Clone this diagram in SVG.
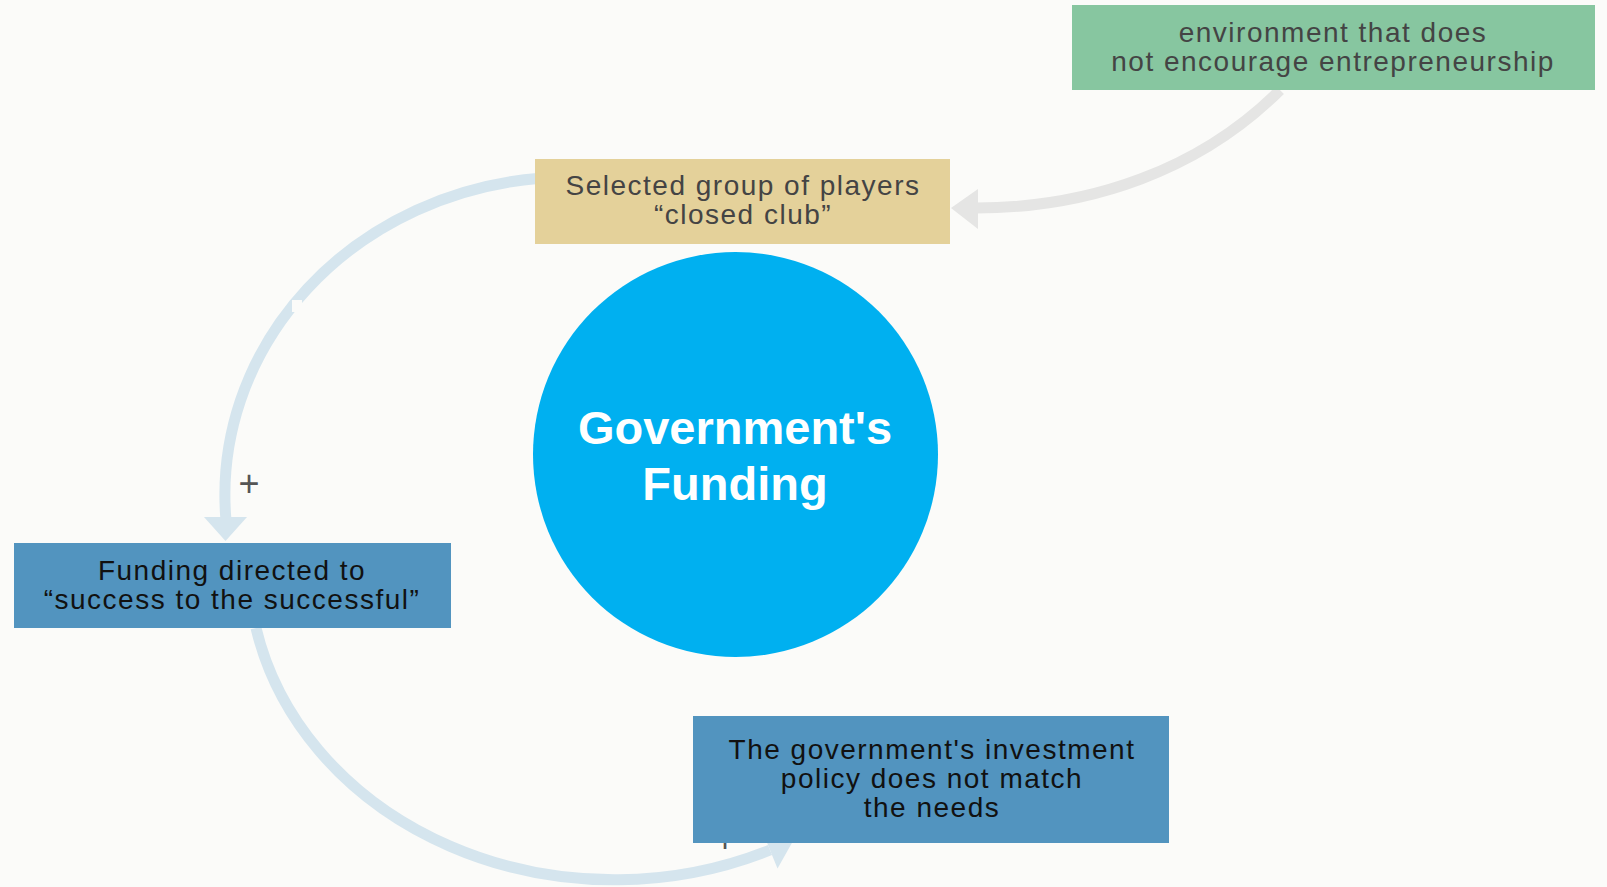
<svg xmlns="http://www.w3.org/2000/svg" width="1607" height="887" viewBox="0 0 1607 887">
<style>
.lbl{font-family:"Liberation Sans",Arial,sans-serif;font-size:28px;letter-spacing:1.5px;text-anchor:middle}
.dark{fill:#444444}
.black{fill:#111111}
.big{font-family:"Liberation Sans",Arial,sans-serif;font-weight:bold;font-size:47px;fill:#ffffff;text-anchor:middle}
.sign{font-family:"Liberation Sans",Arial,sans-serif;font-size:36px;fill:#555555;text-anchor:middle}
.blue{fill:none;stroke:#d5e5ee;stroke-width:11}
.gray{fill:none;stroke:#e5e5e4;stroke-width:11}
</style>
<rect x="0" y="0" width="1607" height="887" fill="#fbfbf9"/>
<g id="connectors">
  <path class="gray" d="M1280,90 C1200,170 1090,208 976,208"/>
  <polygon points="951,208 978,189 978,229" fill="#e5e5e4"/>
  <path class="blue" d="M540,178.2 A345,318 0 0,0 225.8,518"/>
  <polygon points="204,517 247,517 225.5,541" fill="#d5e5ee"/>
  <rect x="292" y="300" width="10" height="12" fill="#fbfbf9"/>
  <text class="sign" x="249" y="495.5">+</text>
  <path class="blue" d="M256,628 A366,315 0 0,0 770,850"/>
  <polygon points="793,841 777.5,868.6 762.5,831.4" fill="#d5e5ee"/>
  <text class="sign" x="725" y="852">+</text>
</g>
<g id="node-environment">
  <rect x="1072" y="5" width="523" height="85" fill="#87c6a0"/>
  <text class="lbl dark" x="1333" y="42">environment that does</text>
  <text class="lbl dark" x="1333" y="71">not encourage entrepreneurship</text>
</g>
<g id="node-closed-club">
  <rect x="535" y="159" width="415" height="85" fill="#e4d19a"/>
  <text class="lbl dark" x="743" y="195">Selected group of players</text>
  <text class="lbl dark" x="743" y="224">“closed club”</text>
</g>
<g id="node-funding">
  <circle cx="735.5" cy="454.5" r="202.5" fill="#00b0f0"/>
  <text class="big" x="735" y="444">Government's</text>
  <text class="big" x="735" y="500">Funding</text>
</g>
<g id="node-success">
  <rect x="14" y="543" width="437" height="85" fill="#5294bf"/>
  <text class="lbl black" x="232" y="580">Funding directed to</text>
  <text class="lbl black" x="232" y="609">“success to the successful”</text>
</g>
<g id="node-policy">
  <rect x="693" y="716" width="476" height="127" fill="#5294bf"/>
  <text class="lbl black" x="932" y="759">The government's investment</text>
  <text class="lbl black" x="932" y="788">policy does not match</text>
  <text class="lbl black" x="932" y="817">the needs</text>
</g>
</svg>
